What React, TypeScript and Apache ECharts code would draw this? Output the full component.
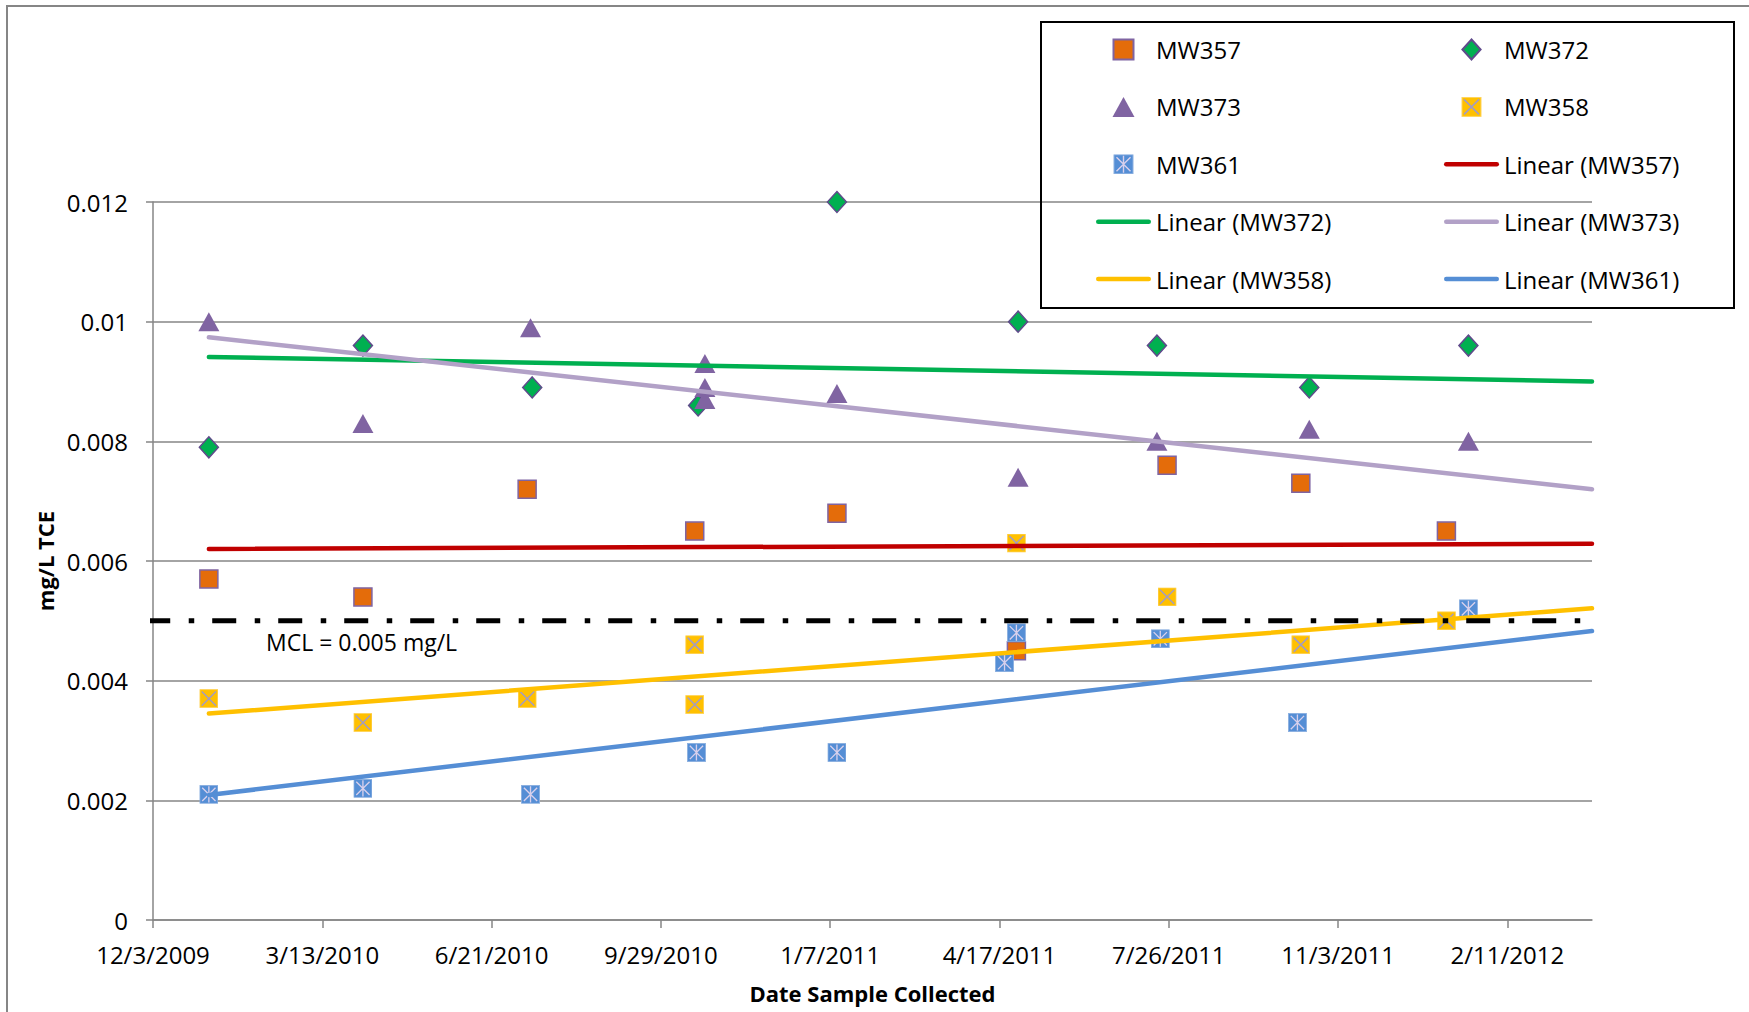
import React, { useEffect, useRef } from "react";
import * as echarts from "echarts";

// ---------- data ----------
const xTickLabels = [
  "12/3/2009", "3/13/2010", "6/21/2010", "9/29/2010", "1/7/2011",
  "4/17/2011", "7/26/2011", "11/3/2011", "2/11/2012",
];
const xMinDate = "12/3/2009";
const xMaxDate = "4/1/2012";
const yTicks = [0, 0.002, 0.004, 0.006, 0.008, 0.01, 0.012];

const mw357Dates = ["1/5/2010", "4/6/2010", "7/12/2010", "10/19/2010", "1/11/2011", "4/27/2011", "7/25/2011", "10/12/2011", "1/6/2012"];
const mw357Values = [0.0057, 0.0054, 0.0072, 0.0065, 0.0068, 0.0045, 0.0076, 0.0073, 0.0065];

const mw372Dates = ["1/5/2010", "4/6/2010", "7/15/2010", "10/21/2010", "1/11/2011", "4/28/2011", "7/19/2011", "10/17/2011", "1/19/2012"];
const mw372Values = [0.0079, 0.0096, 0.0089, 0.0086, 0.012, 0.01, 0.0096, 0.0089, 0.0096];

const mw373Dates = ["1/5/2010", "4/6/2010", "7/14/2010", "10/25/2010", "10/25/2010", "10/25/2010", "1/11/2011", "4/28/2011", "7/19/2011", "10/17/2011", "1/19/2012"];
const mw373Values = [0.01, 0.0083, 0.0099, 0.0093, 0.0089, 0.0087, 0.0088, 0.0074, 0.008, 0.0082, 0.008];

const mw358Dates = ["1/5/2010", "4/6/2010", "7/12/2010", "10/19/2010", "10/19/2010", "4/27/2011", "7/25/2011", "10/12/2011", "1/6/2012"];
const mw358Values = [0.0037, 0.0033, 0.0037, 0.0046, 0.0036, 0.0063, 0.0054, 0.0046, 0.005];

const mw361Dates = ["1/5/2010", "4/6/2010", "7/14/2010", "10/20/2010", "1/11/2011", "4/27/2011", "4/20/2011", "7/21/2011", "10/10/2011", "1/19/2012"];
const mw361Values = [0.0021, 0.0022, 0.0021, 0.0028, 0.0028, 0.0048, 0.0043, 0.0047, 0.0033, 0.0052];

// linear trend lines (start / end values)
const trendDates = ["1/5/2010", "4/1/2012"];
const trend357 = [0.0062, 0.00629];
const trend372 = [0.00941, 0.009];
const trend373 = [0.00974, 0.0072];
const trend358 = [0.00345, 0.00521];
const trend361 = [0.00209, 0.00483];

const mclValue = 0.005;
const mclLabel = "MCL = 0.005 mg/L";

const legendCol1 = ["MW357", "MW373", "MW361", "Linear (MW372)", "Linear (MW358)"];
const legendCol2 = ["MW372", "MW358", "Linear (MW357)", "Linear (MW373)", "Linear (MW361)"];

// ---------- helpers ----------
const EPOCH = Date.UTC(1899, 11, 30);
function serial(d: string): number {
  const [m, dd, y] = d.split("/").map(Number);
  return Math.round((Date.UTC(y, m - 1, dd) - EPOCH) / 86400000);
}
function fmtSerial(s: number): string {
  const dt = new Date(EPOCH + Math.round(s) * 86400000);
  return `${dt.getUTCMonth() + 1}/${dt.getUTCDate()}/${dt.getUTCFullYear()}`;
}
function pts(dates: string[], vals: number[]) {
  return dates.map((d, i) => [serial(d), vals[i]]);
}

const FONT = "Open Sans";

const svgUri = (svg: string) => "image://data:image/svg+xml;utf8," + encodeURIComponent(svg);
const yellowX = svgUri(
  '<svg xmlns="http://www.w3.org/2000/svg" width="20" height="20" viewBox="0 0 20 20">' +
    '<rect x="0.5" y="0.5" width="19" height="19" fill="#FFC000" stroke="#FFD45A" stroke-width="1"/>' +
    '<path d="M2.5 2.5L17.5 17.5M17.5 2.5L2.5 17.5" stroke="#A49CC0" stroke-width="1.6" fill="none"/></svg>'
);
const blueStar = svgUri(
  '<svg xmlns="http://www.w3.org/2000/svg" width="20" height="20" viewBox="0 0 20 20">' +
    '<rect x="0.5" y="0.5" width="19" height="19" fill="#558ED5" stroke="#8CB0E0" stroke-width="1"/>' +
    '<path d="M3 3L17 17M17 3L3 17M10 1.5L10 18.5" stroke="#D8D0EC" stroke-width="1.4" fill="none"/></svg>'
);

const ICON_SQUARE = "path://M0 0H10V10H0Z";
const ICON_DIAMOND = "path://M5 0L10 5.5L5 11L0 5.5Z";
const ICON_TRIANGLE = "path://M5.5 0L11 10H0Z";
const ICON_LINE = "path://M2.25 0H52.75A2.25 2.25 0 0 1 52.75 4.5H2.25A2.25 2.25 0 0 1 2.25 0Z";

function legendIcon(name: string): string {
  if (name.startsWith("Linear")) return ICON_LINE;
  if (name === "MW357") return ICON_SQUARE;
  if (name === "MW372") return ICON_DIAMOND;
  if (name === "MW373") return ICON_TRIANGLE;
  if (name === "MW358") return yellowX;
  return blueStar;
}

export default function App() {
  const ref = useRef<HTMLDivElement>(null);

  useEffect(() => {
    if (!ref.current) return;
    const chart = echarts.init(ref.current, undefined, { renderer: "svg" });

    const xMin = serial(xMinDate);
    const xMax = serial(xMaxDate);
    const tickSerials = xTickLabels.map(serial);

    const scatterBase = { type: "scatter" as const, z: 2, emphasis: { disabled: true } };
    const trendBase = (name: string, vals: number[], color: string) => ({
      name,
      type: "line" as const,
      z: 3,
      symbol: "none",
      showSymbol: false,
      data: pts(trendDates, vals),
      lineStyle: { color, width: 4.5, cap: "round" as const },
      itemStyle: { color },
      emphasis: { disabled: true },
    });

    const legendBase = {
      orient: "vertical",
      top: 37.5,
      padding: 0,
      itemWidth: 55,
      itemHeight: 20,
      itemGap: 33.4,
      selectedMode: false,
      symbolKeepAspect: true,
      textStyle: { fontSize: 24, fontFamily: FONT, color: "#000" },
    };

    const option: any = {
      animation: false,
      backgroundColor: "#ffffff",
      textStyle: { fontFamily: FONT },
      grid: { left: 153, right: 157, top: 202, bottom: 92, containLabel: false, outerBoundsMode: "none" },
      xAxis: {
        type: "value",
        min: xMin,
        max: xMax,
        interval: 100,
        splitLine: { show: false },
        axisLine: { show: true, lineStyle: { color: "#868686", width: 1.5 } },
        axisTick: { show: true, length: 8, customValues: tickSerials, lineStyle: { color: "#868686", width: 1.5 } },
        axisLabel: {
          customValues: tickSerials,
          formatter: (v: number) => fmtSerial(v),
          fontSize: 24,
          fontFamily: FONT,
          color: "#000",
          margin: 22,
        },
        name: "Date Sample Collected",
        nameLocation: "middle",
        nameGap: 62,
        nameTextStyle: { fontSize: 22, fontWeight: "bold", fontFamily: FONT, color: "#000" },
      },
      yAxis: {
        type: "value",
        min: yTicks[0],
        max: yTicks[yTicks.length - 1],
        interval: yTicks[1] - yTicks[0],
        axisLine: { show: true, lineStyle: { color: "#868686", width: 1.5 } },
        axisTick: { show: true, length: 7, lineStyle: { color: "#868686", width: 1.5 } },
        splitLine: { show: true, lineStyle: { color: "#868686", width: 1.5 } },
        axisLabel: { fontSize: 24, fontFamily: FONT, color: "#000", margin: 25 },
        name: "mg/L TCE",
        nameLocation: "middle",
        nameRotate: 90,
        nameGap: 92,
        nameTextStyle: { fontSize: 22, fontWeight: "bold", fontFamily: FONT, color: "#000" },
      },
      legend: [
        { ...legendBase, left: 1096, data: legendCol1.map((n) => ({ name: n, icon: legendIcon(n) })) },
        { ...legendBase, left: 1444, data: legendCol2.map((n) => ({ name: n, icon: legendIcon(n) })) },
      ],
      graphic: [
        {
          type: "rect",
          z: 0,
          silent: true,
          shape: { x: 7, y: 6, width: 2000, height: 2000 },
          style: { fill: "none", stroke: "#868686", lineWidth: 2 },
        },
        {
          type: "rect",
          z: 1,
          silent: true,
          shape: { x: 1041, y: 22, width: 693, height: 286 },
          style: { fill: "none", stroke: "#000", lineWidth: 2 },
        },
        {
          type: "text",
          silent: true,
          x: 266,
          y: 642,
          style: {
            text: mclLabel,
            fontSize: 23,
            fontFamily: FONT,
            fill: "#000",
            align: "left",
            verticalAlign: "middle",
          },
        },
      ],
      series: [
        {
          ...scatterBase,
          name: "MW357",
          symbol: "rect",
          symbolSize: 18,
          data: pts(mw357Dates, mw357Values),
          itemStyle: { color: "#E46C0A", borderColor: "#7F64A2", borderWidth: 1.5, opacity: 1 },
        },
        {
          ...scatterBase,
          name: "MW372",
          symbol: "diamond",
          symbolSize: [19, 21],
          data: pts(mw372Dates, mw372Values),
          itemStyle: { color: "#00B050", borderColor: "#5F4A8B", borderWidth: 1.5, opacity: 1 },
        },
        {
          ...scatterBase,
          name: "MW373",
          symbol: "triangle",
          symbolSize: [21, 19],
          data: pts(mw373Dates, mw373Values),
          itemStyle: { color: "#8064A2", opacity: 1 },
        },
        {
          ...scatterBase,
          name: "MW358",
          symbol: yellowX,
          symbolSize: 19,
          data: pts(mw358Dates, mw358Values),
          itemStyle: { color: "#FFC000", opacity: 1 },
        },
        {
          ...scatterBase,
          name: "MW361",
          symbol: blueStar,
          symbolSize: 19,
          data: pts(mw361Dates, mw361Values),
          itemStyle: { color: "#558ED5", opacity: 1 },
        },
        trendBase("Linear (MW357)", trend357, "#C00000"),
        trendBase("Linear (MW372)", trend372, "#00B050"),
        trendBase("Linear (MW373)", trend373, "#B2A1C7"),
        trendBase("Linear (MW358)", trend358, "#FFC000"),
        trendBase("Linear (MW361)", trend361, "#558ED5"),
        {
          name: "MCL",
          type: "line",
          z: 4,
          clip: false,
          symbol: "none",
          showSymbol: false,
          silent: true,
          data: [
            [xMin - 4, mclValue],
            [xMax + 6.5, mclValue],
          ],
          lineStyle: { color: "#000", width: 5, type: [24, 18.5, 5.5, 18], cap: "butt" },
          emphasis: { disabled: true },
        },
      ],
    };

    chart.setOption(option);
    return () => chart.dispose();
  }, []);

  return (
    <div
      ref={ref}
      style={{ position: "fixed", left: 0, top: 0, width: 1749, height: 1012, background: "#fff" }}
    />
  );
}
